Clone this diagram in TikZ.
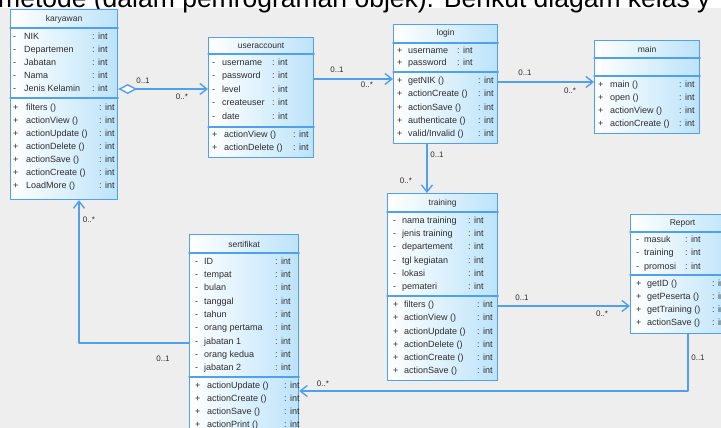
\documentclass[tikz,border=0pt]{standalone}
\usepackage{fontspec}
\setmainfont{Liberation Sans}
\usetikzlibrary{arrows.meta}
\definecolor{umlline}{RGB}{80,160,235}
\definecolor{umlfill}{RGB}{188,227,250}
\definecolor{umltext}{RGB}{45,45,45}
\definecolor{umlbg}{RGB}{238,238,238}
\begin{document}
\begin{tikzpicture}[line cap=round, line join=round, x=1pt, y=-1pt,
    cls/.style={draw=umlline, line width=1.2pt, left color=white, right color=umlfill,
      anchor=north west, inner sep=0pt},
    sep/.style={draw=umlline, line width=1.1pt},
    title/.style={inner sep=0pt, text=umltext, font=\fontsize{8.5}{10}\selectfont},
    row/.style={anchor=west, inner sep=0pt, text height=7pt, text depth=2pt,
      text=umltext, font=\fontsize{9}{10}\selectfont},
    lbl/.style={inner sep=0pt, text=umltext, font=\fontsize{8}{9}\selectfont},
    assoc/.style={draw=umlline, line width=1.4pt},
    tip/.style={-{Straight Barb[length=7pt,width=11pt]}}]
  \useasboundingbox (0,0) rectangle (721,428);
  \clip (0,0) rectangle (721,428);
  \fill[white] (0,0) rectangle (721,8);
  \fill[umlbg] (0,8) rectangle (721,428);
  \node[anchor=base west, inner sep=0pt, font=\fontsize{26.5}{30}\selectfont] (caption) at (-2,7.5)
    {metode (dalam pemrograman objek). Berikut diagam kelas y};

  % karyawan
  \node[cls, minimum width=107pt, minimum height=190pt] (karyawan) at (10,9) {};
  \draw[sep] (karyawan.west |- 0,28) -- (karyawan.east |- 0,28);
  \draw[sep] (karyawan.west |- 0,98) -- (karyawan.east |- 0,98);
  \node[title] (karyawan-t) at (karyawan.north |- 0,19) {karyawan};
  \foreach \y/\txt [count=\i] in {37/NIK,50/Departemen,63/Jabatan,76/Nama,89/Jenis Kelamin} {
    \node[row] (karyawan-a\i) at (13,\y) {\makebox[11pt][l]{-}\txt};
    \node[row] (karyawan-at\i) at (92,\y) {: int};
  }
  \foreach \y/\txt [count=\i] in {108/filters (),121/actionView (),134/actionUpdate (),
      147/actionDelete (),160/actionSave (),173/actionCreate (),186/LoadMore ()} {
    \node[row] (karyawan-m\i) at (13,\y) {\makebox[13pt][l]{+}\txt};
    \node[row] (karyawan-mt\i) at (99,\y) {: int};
  }

  % useraccount
  \node[cls, minimum width=105pt, minimum height=120pt] (useraccount) at (208,37) {};
  \draw[sep] (useraccount.west |- 0,54) -- (useraccount.east |- 0,54);
  \draw[sep] (useraccount.west |- 0,127) -- (useraccount.east |- 0,127);
  \node[title] (useraccount-t) at (useraccount.north |- 0,46) {useraccount};
  \foreach \y/\txt [count=\i] in {63/username,76.5/password,90/level,103.5/createuser,117/date} {
    \node[row] (useraccount-a\i) at (212,\y) {\makebox[10pt][l]{-}\txt};
    \node[row] (useraccount-at\i) at (272,\y) {: int};
  }
  \foreach \y/\txt [count=\i] in {135/actionView (),148/actionDelete ()} {
    \node[row] (useraccount-m\i) at (212,\y) {\makebox[12pt][l]{+}\txt};
    \node[row] (useraccount-mt\i) at (293,\y) {: int};
  }

  % login
  \node[cls, minimum width=104pt, minimum height=119pt] (login) at (393,24) {};
  \draw[sep] (login.west |- 0,43) -- (login.east |- 0,43);
  \draw[sep] (login.west |- 0,72) -- (login.east |- 0,72);
  \node[title] (login-t) at (login.north |- 0,33.5) {login};
  \foreach \y/\txt [count=\i] in {51/username,63.5/password} {
    \node[row] (login-a\i) at (397,\y) {\makebox[11pt][l]{+}\txt};
    \node[row] (login-at\i) at (457,\y) {: int};
  }
  \foreach \y/\txt [count=\i] in {81/getNIK (),94/actionCreate (),108/actionSave (),
      121/authenticate (),134/{valid/Invalid ()}} {
    \node[row] (login-m\i) at (397,\y) {\makebox[11pt][l]{+}\txt};
    \node[row] (login-mt\i) at (478,\y) {: int};
  }

  % main
  \node[cls, minimum width=105pt, minimum height=93pt] (main) at (594,40) {};
  \draw[sep] (main.west |- 0,58) -- (main.east |- 0,58);
  \draw[sep] (main.west |- 0,76) -- (main.east |- 0,76);
  \node[title] (main-t) at (main.north |- 0,49) {main};
  \foreach \y/\txt [count=\i] in {85/main (),98/open (),111/actionView (),124/actionCreate ()} {
    \node[row] (main-m\i) at (598,\y) {\makebox[12pt][l]{+}\txt};
    \node[row] (main-mt\i) at (679,\y) {: int};
  }

  % training
  \node[cls, minimum width=110pt, minimum height=187pt] (training) at (387,193) {};
  \draw[sep] (training.west |- 0,212) -- (training.east |- 0,212);
  \draw[sep] (training.west |- 0,296) -- (training.east |- 0,296);
  \node[title] (training-t) at (training.north |- 0,203) {training};
  \foreach \y/\txt [count=\i] in {221/nama training,234/jenis training,247/departement,
      261/tgl kegiatan,274/lokasi,287/pemateri} {
    \node[row] (training-a\i) at (393,\y) {\makebox[9pt][l]{-}\txt};
    \node[row] (training-at\i) at (468,\y) {: int};
  }
  \foreach \y/\txt [count=\i] in {305/filters (),318/actionView (),332/actionUpdate (),
      345/actionDelete (),358/actionCreate (),371/actionSave ()} {
    \node[row] (training-m\i) at (393,\y) {\makebox[11pt][l]{+}\txt};
    \node[row] (training-mt\i) at (477,\y) {: int};
  }

  % Report
  \node[cls, minimum width=104pt, minimum height=119pt] (Report) at (630,214) {};
  \draw[sep] (Report.west |- 0,232) -- (Report.east |- 0,232);
  \draw[sep] (Report.west |- 0,275) -- (Report.east |- 0,275);
  \node[title] (Report-t) at (Report.north |- 0,223) {Report};
  \foreach \y/\txt [count=\i] in {240/masuk,253/training,267/promosi} {
    \node[row] (Report-a\i) at (636,\y) {\makebox[8pt][l]{-}\txt};
    \node[row] (Report-at\i) at (685,\y) {: int};
  }
  \foreach \y/\txt [count=\i] in {284/getID (),297/getPeserta (),310/getTraining (),323/actionSave ()} {
    \node[row] (Report-m\i) at (636,\y) {\makebox[11pt][l]{+}\txt};
    \node[row] (Report-mt\i) at (712,\y) {: int};
  }

  % sertifikat
  \node[cls, minimum width=109pt, minimum height=205pt] (sertifikat) at (189,234) {};
  \draw[sep] (sertifikat.west |- 0,253) -- (sertifikat.east |- 0,253);
  \draw[sep] (sertifikat.west |- 0,377) -- (sertifikat.east |- 0,377);
  \node[title] (sertifikat-t) at (sertifikat.north |- 0,244) {sertifikat};
  \foreach \y/\txt [count=\i] in {262/ID,275/tempat,288/bulan,302/tanggal,315/tahun,
      328/orang pertama,342/jabatan 1,355/orang kedua,368/jabatan 2} {
    \node[row] (sertifikat-a\i) at (195,\y) {\makebox[9pt][l]{-}\txt};
    \node[row] (sertifikat-at\i) at (275,\y) {: int};
  }
  \foreach \y/\txt [count=\i] in {386/actionUpdate (),399/actionCreate (),412/actionSave (),425/actionPrint ()} {
    \node[row] (sertifikat-m\i) at (195,\y) {\makebox[12pt][l]{+}\txt};
    \node[row] (sertifikat-mt\i) at (284,\y) {: int};
  }

  % associations
  \draw[assoc, {Diamond[length=19pt,width=10pt,fill=white]}-{Straight Barb[length=7pt,width=11pt]}]
    (karyawan.east |- 0,89) -- (useraccount.west |- 0,89);
  \draw[assoc, tip] (useraccount.east |- 0,79) -- (login.west |- 0,79);
  \draw[assoc, tip] (login.east |- 0,82) -- (main.west |- 0,82);
  \draw[assoc, tip] (login.south -| 427,0) -- (training.north -| 427,0);
  \draw[assoc, tip] (training.east |- 0,306) -- (Report.west |- 0,306);
  \draw[assoc, tip] (Report.south -| 688,0) |- (sertifikat.east |- 0,391);
  \draw[assoc, tip] (sertifikat.west |- 0,343) -| (karyawan.south -| 79,0);

  \foreach \name/\x/\y/\txt in {k1/143/81/0..1, k2/182/97/0..*, u1/337/70/0..1, u2/367/85/0..*,
      l1/525/73/0..1, l2/570/91/0..*, l3/437/155/0..1, l4/406/181/0..*,
      t1/522/298/0..1, t2/602/314/0..*, r1/698/358/0..1, r2/323/384/0..*,
      s1/89/220/0..*, s2/163/359/0..1}
    \node[lbl] (\name) at (\x,\y) {\txt};
\end{tikzpicture}
\end{document}
